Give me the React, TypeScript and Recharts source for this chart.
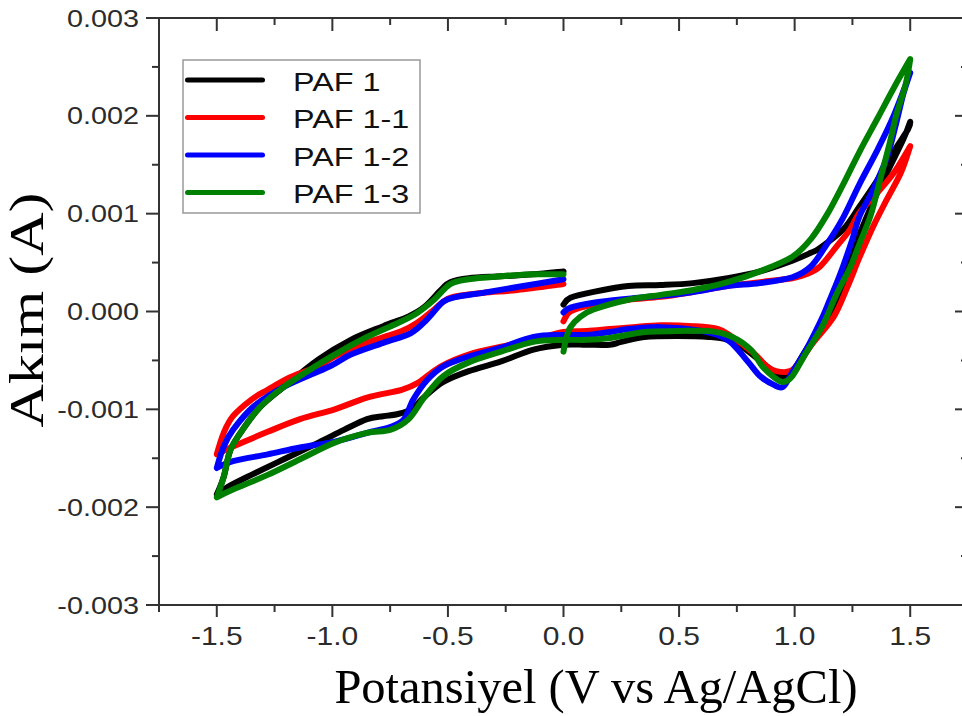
import React from 'react';
import { LineChart, Line, XAxis, YAxis, Legend } from 'recharts';

type Pt = [number, number];

// [potential (V), current (A)] in scan order: 0 -> +1.5 -> -1.5 -> 0
const paf1: Pt[] = [
  [0, 0.00007], [0.03, 0.00014], [0.13, 0.0002], [0.28, 0.00026], [0.42, 0.00027], [0.56, 0.00029], [0.71, 0.00034],
  [0.85, 0.00041], [0.99, 0.00052], [1.07, 0.0006], [1.11, 0.00065], [1.21, 0.00084], [1.28, 0.00107], [1.36, 0.00135],
  [1.43, 0.00164], [1.49, 0.00186], [1.5, 0.00194],
  [1.47, 0.00176], [1.4, 0.00142], [1.33, 0.00107], [1.25, 0.0006], [1.2, 0.00022], [1.14, -0.00008], [1.05, -0.00039],
  [0.99, -0.00062], [0.95, -0.00067], [0.88, -0.00056], [0.79, -0.00039], [0.71, -0.00029], [0.63, -0.00026],
  [0.49, -0.00025], [0.35, -0.00026], [0.25, -0.00031], [0.2, -0.00034], [0.1, -0.00034], [0, -0.00034],
  [-0.13, -0.00039], [-0.27, -0.00051], [-0.41, -0.00061], [-0.52, -0.00072], [-0.6, -0.00087], [-0.66, -0.001],
  [-0.72, -0.00105], [-0.78, -0.00107], [-0.85, -0.0011], [-0.95, -0.00121], [-1.06, -0.00134], [-1.21, -0.00151],
  [-1.35, -0.00167], [-1.45, -0.00179], [-1.5, -0.00187],
  [-1.47, -0.00169], [-1.44, -0.00141], [-1.38, -0.00118], [-1.31, -0.00097], [-1.21, -0.00077], [-1.06, -0.00049],
  [-0.92, -0.00029], [-0.78, -0.00015], [-0.67, -0.00005], [-0.6, 0.00005], [-0.53, 0.00022], [-0.49, 0.0003],
  [-0.41, 0.00034], [-0.27, 0.00036], [-0.13, 0.00038], [0, 0.00041],
];

const paf1_1: Pt[] = [
  [0, -0.0001], [0.03, 0], [0.13, 0.00007], [0.28, 0.00012], [0.42, 0.00015], [0.56, 0.0002], [0.71, 0.00026],
  [0.85, 0.0003], [0.99, 0.00034], [1.05, 0.00038], [1.11, 0.00046], [1.18, 0.00066], [1.24, 0.00084], [1.28, 0.00101],
  [1.36, 0.00122], [1.43, 0.00142], [1.5, 0.00169],
  [1.46, 0.00142], [1.4, 0.00115], [1.34, 0.00087], [1.28, 0.00055], [1.23, 0.00026], [1.17, -0.00005], [1.08, -0.00032],
  [1.02, -0.00052], [0.98, -0.00061], [0.92, -0.00061], [0.88, -0.00056], [0.82, -0.00042], [0.73, -0.00026],
  [0.67, -0.00018], [0.56, -0.00015], [0.42, -0.00014], [0.3, -0.00016], [0.2, -0.00018], [0.1, -0.0002], [0, -0.00021],
  [-0.13, -0.00029], [-0.27, -0.00036], [-0.41, -0.00044], [-0.53, -0.00056], [-0.63, -0.00073], [-0.7, -0.0008],
  [-0.85, -0.00088], [-0.99, -0.001], [-1.14, -0.0011], [-1.28, -0.00123], [-1.43, -0.00138], [-1.5, -0.00146],
  [-1.47, -0.00124], [-1.43, -0.00107], [-1.35, -0.0009], [-1.28, -0.0008], [-1.18, -0.00067], [-1.06, -0.00056],
  [-0.99, -0.00046], [-0.85, -0.00032], [-0.7, -0.0002], [-0.63, -0.00011], [-0.56, 0.00002], [-0.49, 0.00014],
  [-0.35, 0.00019], [-0.2, 0.00022], [0, 0.00028],
];

const paf1_2: Pt[] = [
  [0, -0.00001], [0.03, 0.00004], [0.13, 0.00009], [0.28, 0.00013], [0.42, 0.00016], [0.56, 0.0002], [0.71, 0.00026],
  [0.85, 0.00029], [0.99, 0.00035], [1.07, 0.00046], [1.14, 0.00069], [1.21, 0.00096], [1.28, 0.0013], [1.36, 0.00166],
  [1.43, 0.00201], [1.5, 0.00244],
  [1.47, 0.00222], [1.44, 0.00193], [1.4, 0.00158], [1.34, 0.00125], [1.28, 0.00097], [1.25, 0.00074], [1.2, 0.0004],
  [1.14, 0.00005], [1.11, -0.00011], [1.05, -0.00039], [0.99, -0.00062], [0.95, -0.00077], [0.91, -0.00075],
  [0.85, -0.00066], [0.79, -0.00049], [0.71, -0.00029], [0.6, -0.0002], [0.42, -0.00016], [0.28, -0.00018],
  [0.2, -0.00021], [0.1, -0.00024], [0, -0.00024],
  [-0.13, -0.00026], [-0.27, -0.00037], [-0.41, -0.00046], [-0.52, -0.00056], [-0.59, -0.0007], [-0.65, -0.0009],
  [-0.69, -0.0011], [-0.75, -0.00118], [-0.85, -0.00124], [-0.99, -0.00133], [-1.14, -0.00139], [-1.28, -0.00146],
  [-1.43, -0.00153], [-1.5, -0.0016],
  [-1.47, -0.00138], [-1.43, -0.00121], [-1.34, -0.00097], [-1.21, -0.00077], [-1.01, -0.00056], [-0.92, -0.00044],
  [-0.78, -0.00032], [-0.66, -0.00022], [-0.59, -0.00008], [-0.52, 0.0001], [-0.46, 0.00015], [-0.35, 0.00019],
  [-0.2, 0.00025], [0, 0.00033],
];

const paf1_3: Pt[] = [
  [0, -0.00041], [0.01, -0.00029], [0.03, -0.00016], [0.07, -0.00006], [0.13, 0.00002], [0.28, 0.00012], [0.42, 0.00017],
  [0.56, 0.00022], [0.71, 0.0003], [0.85, 0.00041], [0.99, 0.00056], [1.07, 0.00074], [1.14, 0.00099], [1.21, 0.0013],
  [1.28, 0.00163], [1.36, 0.00198], [1.43, 0.00229], [1.5, 0.00258],
  [1.48, 0.00232], [1.44, 0.00201], [1.41, 0.00171], [1.37, 0.00135], [1.33, 0.00099], [1.28, 0.00069], [1.24, 0.00045],
  [1.18, 0.00017], [1.12, -0.00015], [1.05, -0.00042], [0.99, -0.00066], [0.95, -0.00072], [0.91, -0.00067],
  [0.86, -0.00056], [0.81, -0.00039], [0.73, -0.00026], [0.63, -0.0002], [0.49, -0.0002], [0.35, -0.00021],
  [0.2, -0.00027], [0.1, -0.00029], [0, -0.00029],
  [-0.13, -0.00031], [-0.27, -0.00041], [-0.41, -0.00052], [-0.52, -0.00066], [-0.6, -0.00087], [-0.67, -0.0011],
  [-0.75, -0.00121], [-0.85, -0.00124], [-0.99, -0.00134], [-1.14, -0.00151], [-1.28, -0.00167], [-1.43, -0.00182],
  [-1.5, -0.0019],
  [-1.47, -0.00169], [-1.44, -0.00141], [-1.38, -0.00118], [-1.31, -0.00097], [-1.21, -0.00077], [-1.06, -0.00054],
  [-0.99, -0.00044], [-0.85, -0.00026], [-0.7, -0.0001], [-0.63, -0.00001], [-0.56, 0.00012], [-0.49, 0.00028],
  [-0.41, 0.00033], [-0.27, 0.00036], [-0.13, 0.00038], [0, 0.00038],
];

const seriesNames = ['PAF 1', 'PAF 1-1', 'PAF 1-2', 'PAF 1-3'];
const seriesColors = ['#000000', '#ff0000', '#0000ff', '#008000'];
const seriesPoints = [paf1, paf1_1, paf1_2, paf1_3];

// major ticks every 0.5 V / 0.001 A, minor ticks halfway between
const xTicks = [-1.75, -1.5, -1.25, -1, -0.75, -0.5, -0.25, 0, 0.25, 0.5, 0.75, 1, 1.25, 1.5, 1.75];
const yTicks = [-0.003, -0.0025, -0.002, -0.0015, -0.001, -0.0005, 0, 0.0005, 0.001, 0.0015, 0.002, 0.0025, 0.003];

const AXIS = '#333';
const SANS = '"Liberation Sans", Arial, sans-serif';
const SERIF = '"Liberation Serif", "Times New Roman", serif';

// Catmull-Rom style curve that keeps the switching potentials sharp:
// where the scan reverses (turn sharper than 90 deg) the tangent is dropped.
const scanCurve = (context: any) => {
  let pts: number[][] = [];
  const tangent = (k: number) => {
    const a = pts[Math.max(k - 1, 0)];
    const b = pts[k];
    const c = pts[Math.min(k + 1, pts.length - 1)];
    const turn = (b[0] - a[0]) * (c[0] - b[0]) + (b[1] - a[1]) * (c[1] - b[1]);
    if (turn < 0) return [0, 0];
    return [(c[0] - a[0]) / 6, (c[1] - a[1]) / 6];
  };
  return {
    areaStart() {},
    areaEnd() {},
    lineStart() { pts = []; },
    point(x: number, y: number) { pts.push([+x, +y]); },
    lineEnd() {
      if (!pts.length) return;
      context.moveTo(pts[0][0], pts[0][1]);
      for (let k = 0; k < pts.length - 1; k++) {
        const t1 = tangent(k);
        const t2 = tangent(k + 1);
        context.bezierCurveTo(
          pts[k][0] + t1[0], pts[k][1] + t1[1],
          pts[k + 1][0] - t2[0], pts[k + 1][1] - t2[1],
          pts[k + 1][0], pts[k + 1][1],
        );
      }
    },
  };
};

const isMajorX = (v: number) => Math.abs(v * 2 - Math.round(v * 2)) < 1e-6;
const isMajorY = (v: number) => Math.abs(v * 1000 - Math.round(v * 1000)) < 1e-6;

const BottomTick = ({ x, y, payload }: any) => {
  const major = isMajorX(payload.value);
  return (
    <g>
      <line x1={x} x2={x} y1={y} y2={y + (major ? 12 : 7)} stroke={AXIS} strokeWidth={2} />
      {major && (
        <text transform={`translate(${x},${y + 40}) scale(1.2,1)`} textAnchor="middle"
          fontFamily={SANS} fontSize={25} fill="#2b2b2b">
          {payload.value.toFixed(1)}
        </text>
      )}
    </g>
  );
};

const TopTick = ({ x, y, payload }: any) => {
  const major = isMajorX(payload.value);
  return <line x1={x} x2={x} y1={y} y2={y + (major ? 13 : 7)} stroke={AXIS} strokeWidth={2} />;
};

const LeftTick = ({ x, y, payload }: any) => {
  const major = isMajorY(payload.value);
  return (
    <g>
      <line x1={x - (major ? 13 : 7)} x2={x} y1={y} y2={y} stroke={AXIS} strokeWidth={2} />
      {major && (
        <text transform={`translate(${x - 20},${y + 8.5}) scale(1.2,1)`} textAnchor="end"
          fontFamily={SANS} fontSize={24} fill="#2b2b2b">
          {payload.value.toFixed(3)}
        </text>
      )}
    </g>
  );
};

const RightTick = ({ x, y, payload }: any) => {
  const major = isMajorY(payload.value);
  return <line x1={x - (major ? 13 : 7)} x2={x} y1={y} y2={y} stroke={AXIS} strokeWidth={2} />;
};

const YTitle = () => (
  <text transform="translate(43,310) rotate(-90) scale(1.25,1)" textAnchor="middle"
    fontFamily={SERIF} fontSize={48} fill="#000">
    Akım (A)
  </text>
);

const XTitle = () => (
  <text x={596} y={703} textAnchor="middle" fontFamily={SERIF} fontSize={48.5} fill="#000">
    Potansiyel (V vs Ag/AgCl)
  </text>
);

const LegendBox = ({ payload }: any) => (
  <svg width={240} height={156} style={{ display: 'block' }}>
    <rect x={1} y={1} width={237} height={153} fill="#fff" stroke="#999" strokeWidth={1.5} />
    {(payload || []).map((entry: any, i: number) => {
      const cy = 21 + i * 37.5;
      return (
        <g key={entry.value}>
          <line x1={5.5} x2={80.5} y1={cy} y2={cy} stroke={entry.color} strokeWidth={5} strokeLinecap="round" />
          <text transform={`translate(111,${cy + 10.5}) scale(1.22,1)`} fontFamily={SANS} fontSize={26.5} fill="#111">
            {entry.value}
          </text>
        </g>
      );
    })}
  </svg>
);

export default function App() {
  const data = seriesPoints.map((pts) => pts.map(([v, i]) => ({ v, i })));

  return (
    <div style={{ position: 'fixed', left: 0, top: 0, width: 962, height: 716, overflow: 'hidden', background: '#fff' }}>
      <LineChart width={1000} height={716} margin={{ top: 0, right: 0, bottom: 0, left: 0 }}>
        <XAxis xAxisId="bottom" type="number" dataKey="v" domain={[-1.75, 1.75]} ticks={xTicks} interval={0}
          allowDataOverflow height={111} tickSize={0} tickMargin={0} tickLine={false}
          axisLine={{ stroke: AXIS, strokeWidth: 2 }} tick={(p: any) => <BottomTick {...p} />}
          label={() => <XTitle />} />
        <XAxis xAxisId="top" orientation="top" type="number" dataKey="v" domain={[-1.75, 1.75]} ticks={xTicks}
          interval={0} allowDataOverflow height={18} tickSize={0} tickMargin={0} tickLine={false}
          axisLine={{ stroke: AXIS, strokeWidth: 2 }} tick={(p: any) => <TopTick {...p} />} />
        <YAxis yAxisId="left" type="number" domain={[-0.003, 0.003]} ticks={yTicks} interval={0}
          allowDataOverflow width={159} tickSize={0} tickMargin={0} tickLine={false}
          axisLine={{ stroke: AXIS, strokeWidth: 2 }} tick={(p: any) => <LeftTick {...p} />}
          label={() => <YTitle />} />
        <YAxis yAxisId="right" orientation="right" type="number" domain={[-0.003, 0.003]} ticks={yTicks}
          interval={0} allowDataOverflow width={32} tickSize={0} tickMargin={0} tickLine={false}
          axisLine={{ stroke: AXIS, strokeWidth: 2 }} tick={(p: any) => <RightTick {...p} />} />
        <Legend layout="vertical" align="center" verticalAlign="middle"
          wrapperStyle={{ left: 182, top: 59, width: 240, height: 156 }}
          content={(p: any) => <LegendBox payload={p.payload} />} />
        {seriesNames.map((name, k) => (
          <Line key={name} name={name} data={data[k]} dataKey="i" xAxisId="bottom" yAxisId="left"
            type={scanCurve as any} stroke={seriesColors[k]} strokeWidth={6} strokeLinejoin="round"
            strokeLinecap="round" dot={false} activeDot={false} isAnimationActive={false} />
        ))}
      </LineChart>
    </div>
  );
}
